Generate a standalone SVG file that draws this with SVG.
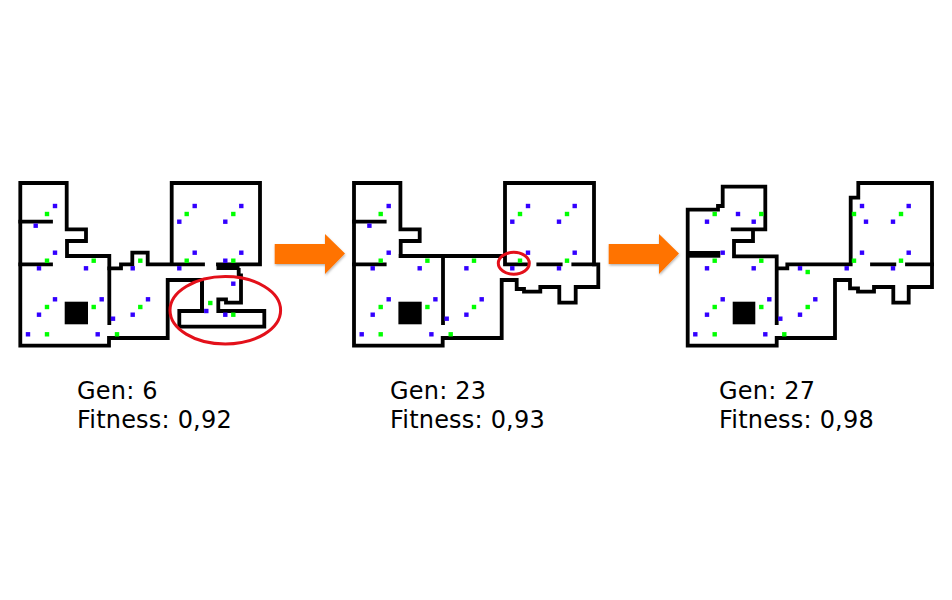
<svg xmlns="http://www.w3.org/2000/svg" xmlns:xlink="http://www.w3.org/1999/xlink" width="952" height="600" viewBox="0 0 952 600">
<style>
.w{fill:none;stroke:#000;stroke-width:3.8;stroke-linejoin:miter;stroke-linecap:square}
.b{fill:#3300ff}
.g{fill:#00ff00}
.k{fill:#000}
.r{fill:none;stroke:#e3101a;stroke-width:3}
.a{fill:#ff7300;filter:url(#s)}
.t{font-family:"DejaVu Sans",sans-serif;font-size:24px;letter-spacing:.2px;fill:#000}
</style>
<defs>
<filter id="s" x="-10%" y="-10%" width="125%" height="130%"><feDropShadow dx="0.5" dy="1.5" stdDeviation="1" flood-color="#000" flood-opacity="0.3"/></filter>
<rect id="bd" class="b" x="-2.2" y="-2.2" width="4.4" height="4.4"/>
<rect id="gd" class="g" x="-2.2" y="-2.2" width="4.4" height="4.4"/>
<g id="leftdots">
<use href="#bd" x="55" y="206"/><use href="#bd" x="35.7" y="225.7"/><use href="#bd" x="55" y="252.7"/><use href="#bd" x="39" y="268.3"/><use href="#bd" x="86" y="268.3"/><use href="#bd" x="55" y="299.3"/><use href="#bd" x="39" y="314.7"/><use href="#bd" x="101.7" y="299.3"/><use href="#bd" x="113" y="318.7"/><use href="#bd" x="28" y="334.3"/><use href="#bd" x="97.7" y="334.3"/><use href="#bd" x="132.7" y="268.3"/><use href="#bd" x="148" y="299.3"/><use href="#bd" x="132.7" y="314.7"/>
<use href="#gd" x="47" y="214"/><use href="#gd" x="47" y="260.7"/><use href="#gd" x="93.7" y="260.7"/><use href="#gd" x="47" y="307"/><use href="#gd" x="93.7" y="307"/><use href="#gd" x="47" y="334.3"/><use href="#gd" x="117" y="334.3"/><use href="#gd" x="140.3" y="260.7"/><use href="#gd" x="140.3" y="307"/>
</g>
</defs>
<rect width="952" height="600" fill="#fff"/>
<g id="plan-gen-6">
<path class="w" d="M109.3 323V256H67V241H86V229.3H66.7V183H20.3V345.7H109V338H167.7V280H202V311H179.3V326.7H264.3V311H218.3V299.3H226V302.7H241V275.5H238.7V270"/>
<path class="w" d="M20.3 221.7H51M20.3 264.3H51M109.3 268.3H121V264.3H132.3V252.7H147.7V264.3H203M171.7 264.3V183H260V264.3H218M202 280V311"/>
<rect class="k" x="216.5" y="263" width="23" height="7"/>
<rect class="k" x="64.7" y="301.7" width="23.3" height="22.6"/>
<use href="#leftdots"/>
<use href="#bd" x="194.7" y="206"/><use href="#bd" x="179.3" y="221.7"/><use href="#bd" x="241.3" y="206"/><use href="#bd" x="225.3" y="221.7"/><use href="#bd" x="194.7" y="252.7"/><use href="#bd" x="241.3" y="252.7"/><use href="#bd" x="179.3" y="268.3"/><use href="#bd" x="225.3" y="260.7"/><use href="#bd" x="233.3" y="283.7"/><use href="#bd" x="206.3" y="311"/><use href="#bd" x="225.3" y="314.7"/>
<use href="#gd" x="186.7" y="214"/><use href="#gd" x="233.3" y="214"/><use href="#gd" x="186.7" y="260.7"/><use href="#gd" x="233.3" y="260.7"/><use href="#gd" x="210.3" y="303"/><use href="#gd" x="233.3" y="314.7"/>
<ellipse class="r" cx="225.3" cy="310.3" rx="55.3" ry="33.7"/>
<text class="t" x="77" y="399">Gen: 6</text>
<text class="t" x="77" y="428">Fitness: 0,92</text>
</g>
<g id="plan-gen-23">
<path class="w" d="M443 323V256H400.7V241H419.7V229.3H400.4V183H354V345.7H442.7V338H501.7V280H516.7V289H524V291.7H540.3V287H559.3V302.7H575.7V287H598.3V264.3H573.3"/>
<path class="w" d="M354 221.7H384.7M354 264.3H384.7M400.7 256H505M505 264.3V183H594V264.3M505 264.3H526M538.3 264.3H560.7"/>
<rect class="k" x="398.4" y="301.7" width="23.3" height="22.6"/>
<use href="#leftdots" x="333.7"/>
<use href="#bd" x="528" y="206"/><use href="#bd" x="512.3" y="221.7"/><use href="#bd" x="574.7" y="206"/><use href="#bd" x="559" y="221.7"/><use href="#bd" x="528" y="252.7"/><use href="#bd" x="574.7" y="252.7"/><use href="#bd" x="512.3" y="268.3"/><use href="#bd" x="559" y="268.3"/>
<use href="#gd" x="520" y="214"/><use href="#gd" x="567" y="214"/><use href="#gd" x="520" y="260.7"/><use href="#gd" x="567" y="260.7"/>
<ellipse class="r" cx="513.8" cy="263.3" rx="15.5" ry="11"/>
<text class="t" x="390" y="399">Gen: 23</text>
<text class="t" x="390" y="428">Fitness: 0,93</text>
</g>
<g id="plan-gen-27">
<path class="w" d="M776.7 323V256.3H734V241H753V229.3M765.3 229.3H732.7M765.3 229.3V186.7H722.7V206H718V209.7H687.7V345.7H776.7V338H835V280H850V288.3H858V291.7H874V287H893.3V302.7H908.7V287H932V183H858.3V197.7H850.7V264.3H787.3V268.3H776.7"/>
<path class="w" d="M872 264.3H894.3M907 264.3H932"/>
<rect class="k" x="686" y="251" width="34.3" height="6.7"/>
<rect class="k" x="732.7" y="301.7" width="22.6" height="22.6"/>
<use href="#bd" x="707" y="221.7"/><use href="#bd" x="738" y="214"/><use href="#bd" x="753.7" y="221.7"/><use href="#bd" x="722.7" y="252.7"/><use href="#bd" x="707" y="268.3"/><use href="#bd" x="753.7" y="268.3"/><use href="#bd" x="722.7" y="299.3"/><use href="#bd" x="707" y="314.7"/><use href="#bd" x="769.3" y="299.3"/><use href="#bd" x="780.3" y="318.7"/><use href="#bd" x="695.3" y="334.3"/><use href="#bd" x="765.3" y="334.3"/><use href="#bd" x="800" y="268.3"/><use href="#bd" x="815.3" y="299.3"/><use href="#bd" x="800" y="314.7"/>
<use href="#gd" x="714.7" y="214"/><use href="#gd" x="761.3" y="214"/><use href="#gd" x="714.7" y="260.7"/><use href="#gd" x="761.3" y="260.7"/><use href="#gd" x="714.7" y="307"/><use href="#gd" x="761.3" y="307"/><use href="#gd" x="714.7" y="334.3"/><use href="#gd" x="784.3" y="334.3"/><use href="#gd" x="807.7" y="272"/><use href="#gd" x="807.7" y="307"/>
<use href="#bd" x="862" y="206"/><use href="#bd" x="866" y="221.7"/><use href="#bd" x="908.7" y="206"/><use href="#bd" x="893" y="221.7"/><use href="#bd" x="862" y="252.7"/><use href="#bd" x="908.7" y="252.7"/><use href="#bd" x="846.7" y="268.3"/><use href="#bd" x="893" y="268.3"/>
<use href="#gd" x="854" y="214"/><use href="#gd" x="901" y="214"/><use href="#gd" x="854" y="260.7"/><use href="#gd" x="901" y="260.7"/>
<text class="t" x="719" y="399">Gen: 27</text>
<text class="t" x="719" y="428">Fitness: 0,98</text>
</g>
<g id="connectors">
<polygon class="a" points="274.7,244 325,244 325,234 345,253.5 325,274 325,264 274.7,264"/>
<polygon class="a" points="608.7,244 659,244 659,234 679,253.5 659,274 659,264 608.7,264"/>
</g>
</svg>
